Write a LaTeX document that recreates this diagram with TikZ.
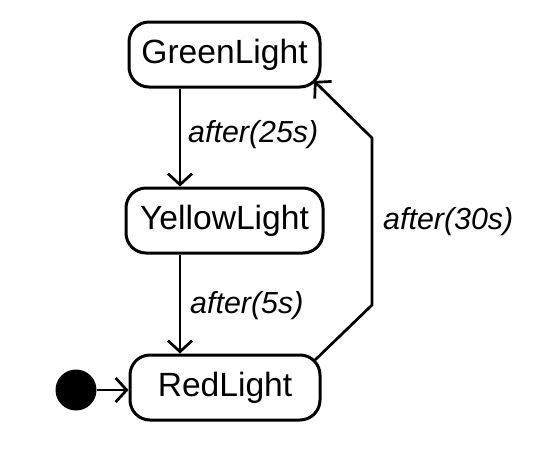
\documentclass[tikz,border=0pt]{standalone}
\usepackage{fontspec}
\setmainfont{Liberation Sans}
\usetikzlibrary{arrows.meta}
\begin{document}
\begin{tikzpicture}[x=1pt,y=-1pt,
  state/.style={draw, line width=3pt, rounded corners=20pt, minimum height=65pt, inner sep=0pt, font=\fontsize{33.6}{38}\selectfont},
  trans/.style={line width=2.7pt, -{Straight Barb[length=11pt,width=24pt,line width=2.7pt]}},
  lbl/.style={font=\fontsize{30.4}{34}\selectfont\itshape, inner sep=0pt, anchor=west}]
\useasboundingbox (0,0) rectangle (558,455);
\node[state, minimum width=191pt] (green) at (224.5,54.5) {GreenLight};
\node[state, minimum width=197pt] (yellow) at (224.5,220.5) {YellowLight};
\node[state, minimum width=190pt] (red) at (225,387.5) {RedLight};
\node[circle, fill=black, minimum size=41pt, inner sep=0pt] (init) at (76,390) {};
\coordinate (ax) at (180,0);
\coordinate (r1) at (372,305);
\coordinate (r2) at (372,138);
\coordinate (rc) at (314,361);
\coordinate (gc) at (314,81);
\draw[trans] (green.south -| ax) -- (yellow.north -| ax);
\draw[trans] (yellow.south -| ax) -- (red.north -| ax);
\draw[trans] (init) -- (red.west |- init);
\draw[trans] (rc) -- (r1) -- (r2) -- (gc);
\node[lbl] (l25) at (188,135) {after(25s)};
\node[lbl] (l5) at (190,306) {after(5s)};
\node[lbl] (l30) at (383,222) {after(30s)};
\end{tikzpicture}
\end{document}
